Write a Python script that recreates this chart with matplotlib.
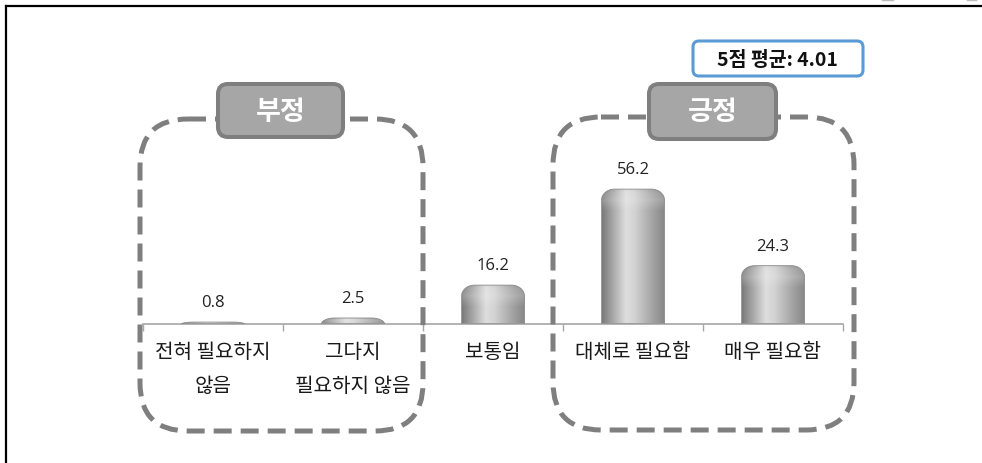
import numpy as np
import matplotlib
matplotlib.use('Agg')
import matplotlib.pyplot as plt
from matplotlib.path import Path
from matplotlib.patches import PathPatch, FancyBboxPatch
from matplotlib.colors import LinearSegmentedColormap
from matplotlib.transforms import Affine2D
from matplotlib.lines import Line2D

plt.rcParams['font.family'] = ['Noto Sans CJK KR', 'DejaVu Sans']

categories = ['전혀 필요하지\n않음', '그다지\n필요하지 않음', '보통임', '대체로 필요함', '매우 필요함']
values = [0.8, 2.5, 16.2, 56.2, 24.3]
group_titles = ['부정', '긍정']
mean_text = '5점 평균: 4.01'

W, H, DPI = 982, 464, 100
fig = plt.figure(figsize=(W / DPI, H / DPI), dpi=DPI)
fig.patch.set_facecolor('white')

# pixel coordinates with the origin at the top-left corner
px = Affine2D().scale(1 / DPI, -1 / DPI).translate(0, H / DPI) + fig.dpi_scale_trans

ax_left, ax_right = 143, 843
base_y = 325
ymax = 60
unit = 2.4  # pixels per percentage point
ax = fig.add_axes([ax_left / W, (H - base_y) / H, (ax_right - ax_left) / W, ymax * unit / H])
ax.set_facecolor('none')

x = np.arange(len(values))
bars = ax.bar(x, values, width=0.45, color='none', edgecolor='none')

cyl = LinearSegmentedColormap.from_list('cyl', [
    (0.0, '#7a7a7a'), (0.12, '#9a9a9a'), (0.38, '#dedede'), (0.52, '#d2d2d2'),
    (0.8, '#a4a4a4'), (1.0, '#868686')])
grad = np.linspace(0, 1, 256)[None, :]

sx = (ax_right - ax_left) / 5.0  # pixels per category


def rounded_top(x0, w, h, rx, ry):
    ry = min(ry, h)
    k = 0.5523
    verts = [(x0, 0), (x0, h - ry),
             (x0, h - ry + k * ry), (x0 + rx - k * rx, h), (x0 + rx, h),
             (x0 + w - rx, h),
             (x0 + w - rx + k * rx, h), (x0 + w, h - ry + k * ry), (x0 + w, h - ry),
             (x0 + w, 0), (x0, 0)]
    codes = [Path.MOVETO, Path.LINETO,
             Path.CURVE4, Path.CURVE4, Path.CURVE4,
             Path.LINETO,
             Path.CURVE4, Path.CURVE4, Path.CURVE4,
             Path.LINETO, Path.CLOSEPOLY]
    return Path(verts, codes)


for rect in bars:
    x0, w, h = rect.get_x(), rect.get_width(), rect.get_height()
    rx = 13 / sx
    ry = 11 / unit
    path = rounded_top(x0, w, h, rx, ry)
    patch = PathPatch(path, facecolor='none', edgecolor='#8a8a8a', lw=0.6, zorder=3)
    ax.add_patch(patch)
    im = ax.imshow(grad, cmap=cyl, extent=(x0, x0 + w, 0, h), aspect='auto',
                   origin='lower', zorder=2, interpolation='bilinear')
    im.set_clip_path(patch)
    # soft sheen on the rounded cap
    cap_h = min(h, 2.0 * ry)
    alpha = np.interp(np.linspace(0, 1, 64), [0, 0.5, 0.85, 1.0], [0.0, 0.2, 0.12, 0.0])
    hl = np.ones((64, 1, 4))
    hl[:, 0, 3] = alpha
    im2 = ax.imshow(hl, extent=(x0, x0 + w, h - cap_h, h), aspect='auto',
                    origin='lower', zorder=2.5, interpolation='bilinear')
    im2.set_clip_path(patch)
    ax.annotate(f'{h:.1f}', (rect.get_x() + w / 2, h), xytext=(0, 20),
                textcoords='offset pixels', ha='center', va='center',
                fontsize=12, color='#222222',
                family=['Open Sans', 'Noto Sans CJK KR'])

for i, lab in enumerate(categories):
    ax.annotate(lab, (i, 0), xytext=(0, -17), textcoords='offset pixels',
                ha='center', va='top', fontsize=14.5, color='#1a1a1a',
                linespacing=1.82, annotation_clip=False)

ax.set_xlim(-0.5, 4.5)
ax.set_ylim(0, ymax)
for s in ['top', 'left', 'right']:
    ax.spines[s].set_visible(False)
ax.spines['bottom'].set_color('#a6a6a6')
ax.spines['bottom'].set_linewidth(1.2)
ax.set_yticks([])
ax.set_xticks(np.arange(-0.5, 5, 1.0))
ax.set_xticklabels([])
ax.tick_params(axis='x', length=5, width=1, color='#a6a6a6', direction='out')

# dashed group frames
dash_style = dict(boxstyle='round,pad=0,rounding_size=48', fc='none', ec='#7f7f7f',
                  lw=3.6, ls=(0, (3.6, 1.8)), transform=px, zorder=5)
fig.add_artist(FancyBboxPatch((140, 120), 283, 312, **dash_style))
fig.add_artist(FancyBboxPatch((553, 118), 301, 313, **dash_style))

# group title badges
for (bx, by, bw, bh), title in zip([(218, 85, 125, 53), (649, 85, 127, 55)], group_titles):
    fig.add_artist(FancyBboxPatch((bx, by), bw, bh, boxstyle='round,pad=0,rounding_size=10',
                                  fc='#a6a6a6', ec='#7f7f7f', lw=2.9, transform=px, zorder=6))
    fig.text(bx + bw / 2, by + bh / 2, title, transform=px, ha='center', va='center',
             fontsize=19.5, fontweight='bold', color='white', zorder=7)

# mean score box
fig.add_artist(FancyBboxPatch((693, 42), 170, 35, boxstyle='round,pad=0,rounding_size=6',
                              fc='white', ec='#5b9bd5', lw=2.2, transform=px, zorder=6))
fig.text(777, 60, mean_text, transform=px, ha='center', va='center',
         fontsize=14, fontweight='bold', color='#111111', zorder=7)

# page frame
fig.add_artist(Line2D([6, 982], [7, 7], color='black', lw=1.6, transform=px))
fig.add_artist(Line2D([6, 6], [7, 464], color='black', lw=1.6, transform=px))
fig.add_artist(Line2D([882, 893], [1, 1], color='#bbbbbb', lw=1, transform=px))
fig.add_artist(Line2D([967, 976], [1, 1], color='#bbbbbb', lw=1, transform=px))

fig.savefig('out.png', dpi=DPI, facecolor='white')
